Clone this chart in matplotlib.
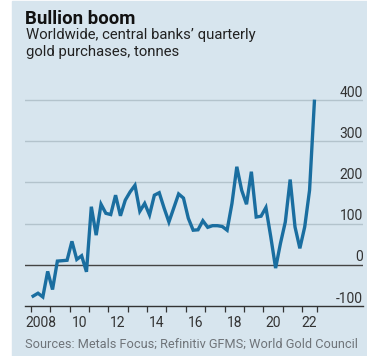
import numpy as np
import pandas as pd
import matplotlib
matplotlib.use("Agg")
import matplotlib.pyplot as plt
from matplotlib.patches import Rectangle

# Central banks' quarterly gold purchases, tonnes, 2008Q1-2022Q3
quarters = pd.period_range("2008Q1", "2022Q3", freq="Q")
tonnes = [-76, -69, -78, -16, -60, 9, 10, 11,
          57, 13, 22, -17, 141, 72, 147, 125,
          122, 169, 119, 157, 177, 193, 130, 149,
          121, 169, 175, 138, 104, 138, 172, 162,
          113, 84, 85, 107, 91, 95, 95, 93,
          84, 149, 238, 181, 147, 226, 116, 118,
          139, 68, -8, 52, 104, 207, 92, 40,
          92, 181, 397]
y_ticks = [-100, 0, 100, 200, 300, 400]
x_labels = ["2008", "10", "12", "14", "16", "18", "20", "22"]
x_label_pos = [2008.5, 2010.5, 2012.5, 2014.5, 2016.5, 2018.5, 2020.5, 2022.375]

x = np.array([q.year + (q.quarter - 0.5) / 4 for q in quarters])

plt.rcParams["font.family"] = ["Roboto", "DejaVu Sans"]
bg = "#d7e5ee"
W, H = 367, 356

fig = plt.figure(figsize=(W / 100, H / 100), dpi=100, facecolor="white")
fig.patches.append(Rectangle((12 / W, 0), 1 - 12 / W, 1 - 1 / H,
                             transform=fig.transFigure, color=bg, zorder=-5))

ax = fig.add_axes([25 / W, 1 - 306 / H, 338 / W, (306 - 91.8) / H])
ax.set_facecolor("none")
ax.set_xlim(2007.706, 2025.13)
ax.set_ylim(-100, 420)

for v in y_ticks[1:]:
    ax.axhline(v, color="#444444" if v == 0 else "#b3c3cc",
               lw=1.0, zorder=1)
    ax.annotate(str(v), xy=(1, v), xycoords=("axes fraction", "data"),
                xytext=(0, 2.5), textcoords="offset points",
                ha="right", va="baseline", fontsize=10, color="#333333")
ax.annotate("-100", xy=(1, -100), xycoords=("axes fraction", "data"),
            xytext=(0, 2.5), textcoords="offset points",
            ha="right", va="baseline", fontsize=10, color="#333333")

ax.plot(x, tonnes, color="#1a6ea0", lw=2.4, solid_joinstyle="miter",
        clip_on=False, zorder=3)

for s in ["top", "right", "left"]:
    ax.spines[s].set_visible(False)
ax.spines["bottom"].set_color("#333333")
ax.spines["bottom"].set_linewidth(1.0)
ax.set_yticks([])

ax.set_xticks(list(range(2008, 2023)) + [2022.75])
ax.set_xticklabels([])
ax.tick_params(axis="x", which="major", length=4.5, width=0.9, color="#333333")
ax.set_xticks(x_label_pos, minor=True)
ax.set_xticklabels(x_labels, minor=True)
ax.tick_params(axis="x", which="minor", length=0, pad=7, labelsize=10,
               labelcolor="#333333")

fig.text(25 / W, 1 - 23.5 / H, "Bullion boom", fontsize=13.4,
         fontweight="bold", color="#111111", va="baseline")
fig.text(26 / W, 1 - 38.5 / H, "Worldwide, central banks\u2019 quarterly",
         fontsize=10.7, color="#222222", va="baseline")
fig.text(26 / W, 1 - 56 / H, "gold purchases, tonnes",
         fontsize=10.7, color="#222222", va="baseline")
fig.text(25 / W, 1 - 348 / H,
         "Sources: Metals Focus; Refinitiv GFMS; World Gold Council",
         fontsize=9.2, color="#6f7479", va="baseline")

fig.savefig("out.png", dpi=100, facecolor="white")
